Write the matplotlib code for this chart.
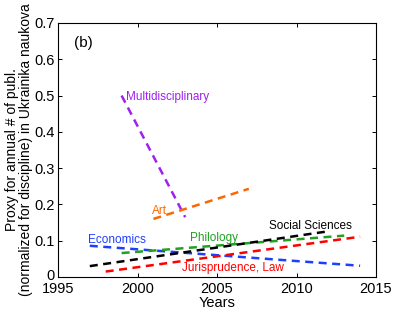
import matplotlib.pyplot as plt
import matplotlib.transforms as mtransforms

# fitted trend lines, start/end (year, value)
multi_x = [1999, 2003]
multi_y = [0.50, 0.165]
art_x = [2001, 2007]
art_y = [0.160, 0.243]
econ_x = [1997, 2014]
econ_y = [0.086, 0.031]
philo_x = [1999, 2013]
philo_y = [0.066, 0.114]
soc_x = [1997, 2012]
soc_y = [0.030, 0.126]
law_x = [1998, 2014]
law_y = [0.015, 0.111]

series = [
    (multi_x, multi_y, '#a020f0', 'Multidisciplinary', (1999.3, 0.495)),
    (art_x, art_y, '#ff6600', 'Art', (2000.9, 0.183)),
    (econ_x, econ_y, '#1f3fff', 'Economics', (1996.9, 0.101)),
    (philo_x, philo_y, '#22a022', 'Philology', (2003.3, 0.108)),
    (soc_x, soc_y, 'k', 'Social Sciences', (2008.3, 0.140)),
    (law_x, law_y, '#ff0000', 'Jurisprudence, Law', (2002.8, 0.024)),
]

plt.rcParams['font.family'] = ['Liberation Sans', 'DejaVu Sans']
fig = plt.figure(figsize=(4.15, 3.12), dpi=100)
ax = fig.add_axes([58/415, 1 - 277/312, 318/415, 254/312])

for x, y, c, name, pos in series:
    ax.plot(x, y, color=c, lw=1.8, dashes=(3.2, 2.2))
    ax.text(pos[0], pos[1], name, color=c, fontsize=8.5, va='center', ha='left')

ax.text(1996.0, 0.645, '(b)', fontsize=11, va='center')

ax.set_xlim(1995, 2015)
ax.set_ylim(0, 0.7)
ax.set_xticks([1995, 2000, 2005, 2010, 2015])
ax.set_yticks([0, 0.1, 0.2, 0.3, 0.4, 0.5, 0.6, 0.7])
ax.set_yticklabels(['0', '0.1', '0.2', '0.3', '0.4', '0.5', '0.6', '0.7'])
ax.tick_params(direction='in', top=True, right=True, labelsize=10.5, length=3, width=0.7)
ax.tick_params(axis='x', pad=3.5)
ax.tick_params(axis='y', pad=2.5)
# nudge the "0" label up a touch so it clears "1995"
zero = ax.get_yticklabels()[0]
zero.set_transform(zero.get_transform() + mtransforms.ScaledTranslation(0, 3/100, fig.dpi_scale_trans))
for s in ax.spines.values():
    s.set_linewidth(0.8)
ax.set_xlabel('Years', fontsize=10.5, labelpad=0)
ax.set_ylabel('Proxy for annual # of publ.\n(normalized for discipline) in Ukrainika naukova',
              fontsize=10, labelpad=1, linespacing=1.0)

fig.savefig('out.png', dpi=100)
